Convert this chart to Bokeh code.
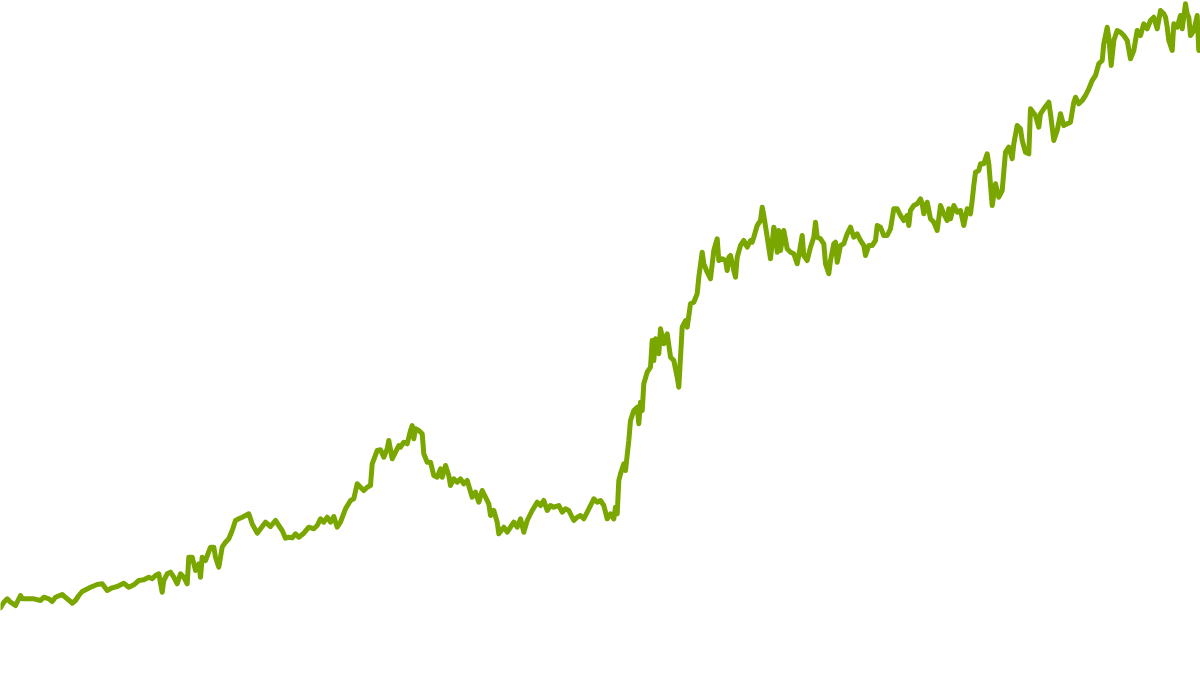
from bokeh.plotting import figure
from bokeh.models import Range1d, ColumnDataSource
from bokeh.embed import file_html
from bokeh.resources import INLINE

# time index (horizontal position) and series values
t_seg1 = [0,3.3,6.7,10,15,20,21.7,26.7,33.3,40,43.3,48.3,51.7,55,61.7,66.7,70,71.7,75,78.3,81.7,90,96.7,101.7,106.7,111.7,116.7,123.3,128.3,133.3,138.3,143.3,148.3,151.7,155,158.3,161.7,163.3,166.7,170,173.3,176.7]
v_seg1 = [67.7,73.3,76.7,73.3,70,80,76.7,76.7,76.7,75,78.3,76.7,74,78.3,81,76.7,74,72.3,75,80,84,88.3,91,91.7,85,87.7,89,92.3,88.3,90.7,95,95.7,98.3,96.7,100,101.7,83.3,95,101.7,103.3,98.3,91.7]

t_seg2 = [180,183.3,186.7,188.3,191.7,195,198.3,200,201.7,205,210,213.3,215,218.3,221.7,225,228.3,231.7,235,238.3,241.7,245,248.3,251.7,256.7,260,265,270,275,278.3,281.7,285,288.3,291.7,295,298.3,303.3,308.3,313.3,316.7,320,323.3,326.7,330,333.3,336.7,340,345,350,353.3,356.7,360,363.3,366.7,370,371.7,376.7,380,383.3,386.7,388.3,391.7,395,398.3]
v_seg2 = [101.7,98.3,91.7,118.3,118.3,105,111.7,98.3,118.3,115,128.3,128.3,118.3,108.3,128.3,133.3,136.7,145,155,156.7,158.3,160,161.7,151.7,142.3,146.7,153.3,149,155,150,145,137.3,138.3,137.7,141.7,138.3,142.3,148.3,146.7,150,156.7,153.3,158.3,153.3,159,148.3,153.3,166.7,175,176.7,191.7,188.3,185,188.3,190,211.7,225,225.7,218.3,226.7,235,216.7,223.3,230]

t_seg3 = [400,403.3,406.7,410,411.7,413.3,415,418.3,421.7,423.3,426.7,430,433.3,436.7,440,441.7,445,448.3,450,453.3,456.7,460,463.3,466.7,471.7,475,478.3,481.7,485,488.3,490,493.3,496.7,498.3,503.3,506.7,510,513.3,516.7,520,523.3,526.7,531.7,536.7,540,543.3,546.7,550,553.3,558.3,561.7,565,568.3,573.3,576.7,580,583.3,586.7,591.7,593.3,596.7]
v_seg3 = [228.3,233.3,231.7,245,250,236.7,246.7,245,241.7,221.7,213.3,213.3,200,198.3,206.7,198.3,210,200,190,196.7,193.3,196.7,191.7,195,178.3,183.3,173.3,185,178.3,171.7,160,165,153.3,141.7,148.3,143.3,148.3,153.3,148.3,156.7,143.3,155,165,173.3,170,175,165,170,168.3,170,163.3,166.7,165,155,158.3,160,156.7,163.3,173.3,176.7,173.3]

t_seg4 = [600,603.3,606.7,610,613.3,615,616.7,618.3,620,623.3,625,628.3,630,633.3,636.7,638.3,640,641.7,643.3,646.7,650,651.7,653.3,655,658.3,660,663.3,666.7,670,673.3,676.7,678.3,681.7,685,686.7,690,693.3,696.7,698.3,701.7,703.3,706.7,710,713.3,716.7,718.3,721.7,725,726.7,728.3,730,733.3,735,736.7,740,743.3,746.7,750,751.7,753.3,756.7,760,761.7,763.3,766.7,770,773.3,775,776.7,778.3]
v_seg4 = [175,170,156.7,161.7,156.7,168.3,161.7,195,201.7,211.7,205,235,255,265,268.3,251.7,273.3,265,291.7,303.3,308.3,335,315,336.7,321.7,346.7,331.7,341.7,318.3,315,298.3,288.3,348.3,355,348.3,371.7,373.3,381.7,398.3,423.3,411.7,403.3,396.7,425,436.7,415,416.7,415,405,418.3,420,405,398.3,418.3,430,435,428.3,435,433.3,438.3,450,455,468.3,460,438.3,416.7,448.3,441.7,423.3,445]

t_seg5 = [780,783.3,786.7,790,793.3,796.7,798.3,801.7,803.3,806.7,810,813.3,815,816.7,820,823.3,825,828.3,830,833.3,835,836.7,840,843.3,846.7,850,853.3,856.7,860,863.3,865,868.3,871.7,875,876.7,880,883.3,886.7,890,893.3,896.7,900,903.3,906.7,908.3,910,913.3,916.7,920,921.7,923.3,926.7,930,933.3,936.7,940,943.3,946.7,948.3,950,953.3,956.7,960,963.3,966.7,970,971.7,973.3,975,978.3]
v_seg5 = [425,445,426.7,423.3,421.7,411.7,420,440,420,415,428.3,438.3,453.3,438.3,436.7,431.7,411.7,401.7,415,431.7,433.3,413.3,430,431.7,441.7,448.3,438.3,441.7,435,430,420,430,430,435,450,448.3,440,440,446.7,466.7,466.7,460,455,460,450,465,470,471.7,476.7,471.7,461.7,473.3,456.7,453.3,445,470,461.7,455,466.7,456.7,470,463.3,465,450,466.7,461.7,475,490,503.3,505]

t_seg6 = [980,983.3,986.7,988.3,991.7,995,998.3,1001.7,1005,1008.3,1011.7,1013.3,1016.7,1020,1021.7,1025,1028.3,1030,1035,1038.3,1040,1043.3,1048.3,1050,1053.3,1056.7,1060,1063.3,1066.7,1070,1073.3,1075,1078.3,1081.7,1085,1088.3,1091.7,1095,1098.3,1101.7,1103.3,1106.7,1108.3,1110.7,1113.3,1116.7,1120,1123.3,1126.7,1130,1133.3,1136.7,1140,1143.3,1146.7,1150,1153.3,1156.7,1160,1163.3,1165,1166.7,1168.3,1171.7,1173.3,1176.7,1180,1181.7,1185,1186.7,1188.3,1190,1193.3,1196.7,1198.3,1200]
v_seg6 = [511.7,511.7,521.7,511.7,470,491.7,478.3,485,523.3,528.3,516.7,531.7,550,546.7,535,523.3,521.7,566.7,560,548.3,561.7,566.7,573.3,561.7,535,545,561.7,550,551.7,553.3,573.3,578.3,571.7,575,580,586.7,595,600,611.7,615,631.7,648.3,638.3,610,635,645,643.3,640,635,616.7,625,645,640,651.7,646.7,655,658.3,646.7,665,661.7,658.3,648.3,635,625,651.7,648.3,660,646.7,671.7,661.7,658.3,640,645,660,625,630]

t = t_seg1 + t_seg2 + t_seg3 + t_seg4 + t_seg5 + t_seg6
v = v_seg1 + v_seg2 + v_seg3 + v_seg4 + v_seg5 + v_seg6
n = min(len(t), len(v))
src = ColumnDataSource(data=dict(t=t[:n], v=v[:n]))

p = figure(width=1200, height=675, output_backend="svg", toolbar_location=None,
           x_range=Range1d(0, 1200), y_range=Range1d(0, 675),
           min_border=0, min_border_left=0, min_border_right=0,
           min_border_top=0, min_border_bottom=0)
p.axis.visible = False
p.grid.visible = False
p.outline_line_color = None
p.background_fill_color = "white"
p.border_fill_color = "white"

p.line("t", "v", source=src, line_color="#7aa600", line_width=5,
       line_join="round", line_cap="round")

html = file_html(p, INLINE)
html = html.replace("<head>", "<head><style>html,body{margin:0;padding:0;overflow:hidden;}</style>", 1)
open("out.html", "w").write(html)
